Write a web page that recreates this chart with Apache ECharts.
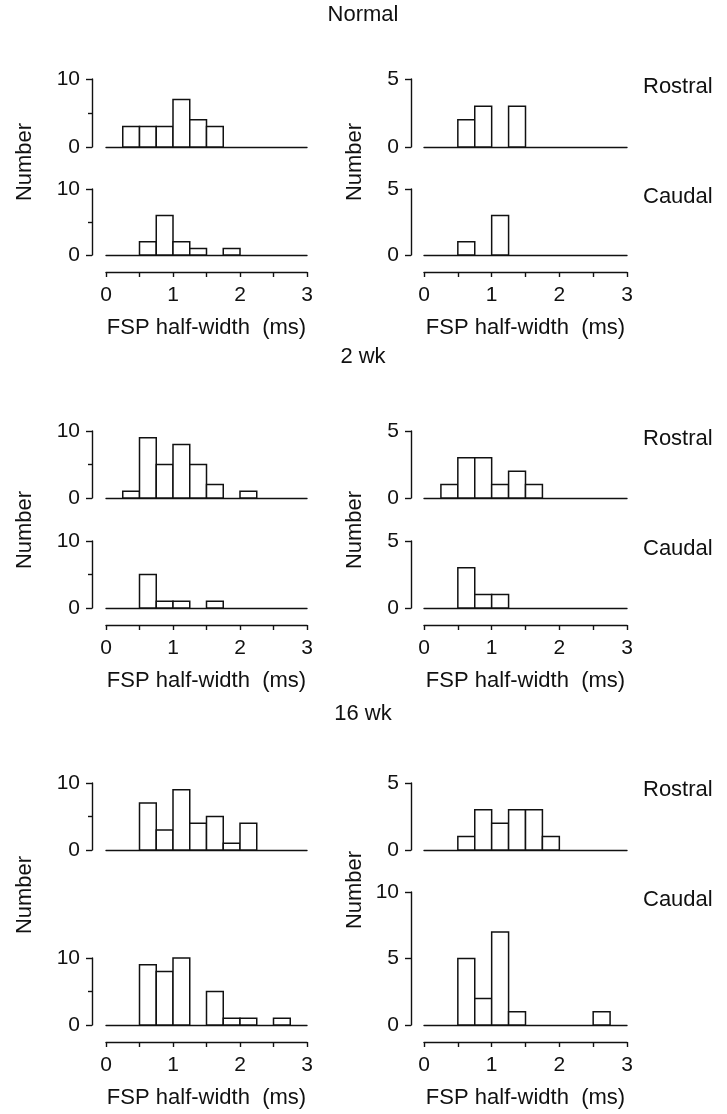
<!DOCTYPE html>
<html>
<head>
<meta charset="utf-8">
<script src="https://cdn.jsdelivr.net/npm/echarts@6/dist/echarts.min.js"></script>
<style>
  html, body { margin: 0; padding: 0; background: #fff; }
  #chart { width: 727px; height: 1114px; }
</style>
</head>
<body>
<div id="chart"></div>
<script>
// bins of 0.25 ms from 0 to 3 ms
const binStarts = [0, 0.25, 0.5, 0.75, 1, 1.25, 1.5, 1.75, 2, 2.25, 2.5, 2.75];
const binWidth = 0.25;
const xTicks = [0, 1, 2, 3];

const groupTitles = ["Normal", "2 wk", "16 wk"];
const rowLabels = ["Rostral", "Caudal"];

// counts per bin, left / right columns
const normalRostralLeft  = [0, 3, 3, 3, 7, 4, 3, 0, 0, 0, 0, 0];
const normalCaudalLeft   = [0, 0, 2, 6, 2, 1, 0, 1, 0, 0, 0, 0];
const normalRostralRight = [0, 0, 2, 3, 0, 3, 0, 0, 0, 0, 0, 0];
const normalCaudalRight  = [0, 0, 1, 0, 3, 0, 0, 0, 0, 0, 0, 0];

const wk2RostralLeft  = [0, 1, 9, 5, 8, 5, 2, 0, 1, 0, 0, 0];
const wk2CaudalLeft   = [0, 0, 5, 1, 1, 0, 1, 0, 0, 0, 0, 0];
const wk2RostralRight = [0, 1, 3, 3, 1, 2, 1, 0, 0, 0, 0, 0];
const wk2CaudalRight  = [0, 0, 3, 1, 1, 0, 0, 0, 0, 0, 0, 0];

const wk16RostralLeft  = [0, 0, 7, 3, 9, 4, 5, 1, 4, 0, 0, 0];
const wk16CaudalLeft   = [0, 0, 9, 8, 10, 0, 5, 1, 1, 0, 1, 0];
const wk16RostralRight = [0, 0, 1, 3, 2, 3, 3, 1, 0, 0, 0, 0];
const wk16CaudalRight  = [0, 0, 5, 2, 7, 1, 0, 0, 0, 0, 1, 0];

// y-axis max per panel
const yMaxLeft = 10;
const yMaxRight = 5;
const yMaxRight16Caudal = 10;

const font = "'Liberation Sans', Arial, sans-serif";
const fontSize = 22;
const tickFontSize = 21;
const ink = "#111";

const cols = [
  { left: 106, width: 201, yOffset: 14, numberX: 25 },
  { left: 424, width: 203, yOffset: 13, numberX: 355 },
];

// top / bottom of each panel's plot area
const panels = [
  { g: 0, row: 0, col: 0, top: 79, bottom: 147, data: normalRostralLeft, max: yMaxLeft },
  { g: 0, row: 1, col: 0, top: 189, bottom: 255, data: normalCaudalLeft, max: yMaxLeft },
  { g: 0, row: 0, col: 1, top: 79, bottom: 147, data: normalRostralRight, max: yMaxRight },
  { g: 0, row: 1, col: 1, top: 189, bottom: 255, data: normalCaudalRight, max: yMaxRight },
  { g: 1, row: 0, col: 0, top: 431, bottom: 498, data: wk2RostralLeft, max: yMaxLeft },
  { g: 1, row: 1, col: 0, top: 541, bottom: 608, data: wk2CaudalLeft, max: yMaxLeft },
  { g: 1, row: 0, col: 1, top: 431, bottom: 498, data: wk2RostralRight, max: yMaxRight },
  { g: 1, row: 1, col: 1, top: 541, bottom: 608, data: wk2CaudalRight, max: yMaxRight },
  { g: 2, row: 0, col: 0, top: 783, bottom: 850, data: wk16RostralLeft, max: yMaxLeft },
  { g: 2, row: 1, col: 0, top: 958, bottom: 1025, data: wk16CaudalLeft, max: yMaxLeft },
  { g: 2, row: 0, col: 1, top: 783, bottom: 850, data: wk16RostralRight, max: yMaxRight },
  { g: 2, row: 1, col: 1, top: 892, bottom: 1025, data: wk16CaudalRight, max: yMaxRight16Caudal, full: true },
];

const titleY = [15, 357, 714];
const rowLabelY = [[87, 197], [439, 549], [790, 900]];
const numberLabelY = [[162, 162], [530, 530], [895, 890]];

const lineStyle = { color: ink, width: 1.4 };

const grid = [];
const xAxis = [];
const yAxis = [];
const series = [];

panels.forEach((p, i) => {
  const c = cols[p.col];
  grid.push({ left: c.left, width: c.width, top: p.top, height: p.bottom - p.top });

  // baseline
  xAxis.push({
    gridIndex: i, type: "value", min: 0, max: 3, position: "bottom",
    axisLine: { show: true, onZero: false, lineStyle },
    axisTick: { show: false }, axisLabel: { show: false }, splitLine: { show: false },
  });

  const tenScale = p.max === 10 && !p.full;
  yAxis.push({
    gridIndex: i, type: "value", min: 0, max: p.max,
    interval: tenScale ? 10 : 5,
    position: "left",
    offset: c.yOffset,
    axisLine: { show: true, onZero: false, lineStyle },
    axisTick: { show: true, length: 6, lineStyle },
    minorTick: { show: tenScale, splitNumber: 2, length: 4, lineStyle },
    axisLabel: { color: ink, fontFamily: font, fontSize: tickFontSize, margin: 12 },
    splitLine: { show: false },
  });

  series.push({
    type: "custom",
    xAxisIndex: i,
    yAxisIndex: i,
    data: binStarts.map((b, k) => [b, p.data[k]]),
    renderItem(params, api) {
      const x0 = api.value(0);
      const n = api.value(1);
      if (!n) return null;
      const a = api.coord([x0, 0]);
      const b = api.coord([x0 + binWidth, n]);
      return {
        type: "rect",
        shape: { x: a[0], y: b[1], width: b[0] - a[0], height: a[1] - b[1] },
        style: { fill: "#fff", stroke: ink, lineWidth: 1.5 },
      };
    },
    silent: true,
  });
});

// bottom scale axes under the caudal panels
panels.forEach((p, i) => {
  if (p.row !== 1) return;
  xAxis.push({
    gridIndex: i, type: "value", min: 0, max: 3, interval: 0.5, position: "bottom", offset: 17,
    axisLine: { show: true, onZero: false, lineStyle },
    axisTick: { show: true, length: 5, lineStyle },
    axisLabel: {
      color: ink, fontFamily: font, fontSize: tickFontSize, margin: 13,
      formatter: (v) => (xTicks.includes(v) ? String(v) : ""),
    },
    splitLine: { show: false },
    name: "FSP half-width  (ms)",
    nameLocation: "middle",
    nameGap: 45,
    nameTextStyle: { color: ink, fontFamily: font, fontSize },
  });
});

const graphic = [];
groupTitles.forEach((t, g) => {
  graphic.push({
    type: "text", x: 363, y: titleY[g],
    style: { text: t, font: `${fontSize}px ${font}`, fill: ink, align: "center", verticalAlign: "middle" },
  });
  rowLabels.forEach((r, k) => {
    graphic.push({
      type: "text", x: 643, y: rowLabelY[g][k],
      style: { text: r, font: `${fontSize}px ${font}`, fill: ink, align: "left", verticalAlign: "middle" },
    });
  });
  cols.forEach((c, k) => {
    graphic.push({
      type: "text", x: c.numberX, y: numberLabelY[g][k], rotation: Math.PI / 2,
      style: { text: "Number", font: `${fontSize}px ${font}`, fill: ink, align: "center", verticalAlign: "middle" },
    });
  });
});

const chart = echarts.init(document.getElementById("chart"), null, { renderer: "canvas" });
chart.setOption({
  animation: false,
  backgroundColor: "#fff",
  textStyle: { fontFamily: font },
  grid,
  xAxis,
  yAxis,
  series,
  graphic,
});
</script>
</body>
</html>
